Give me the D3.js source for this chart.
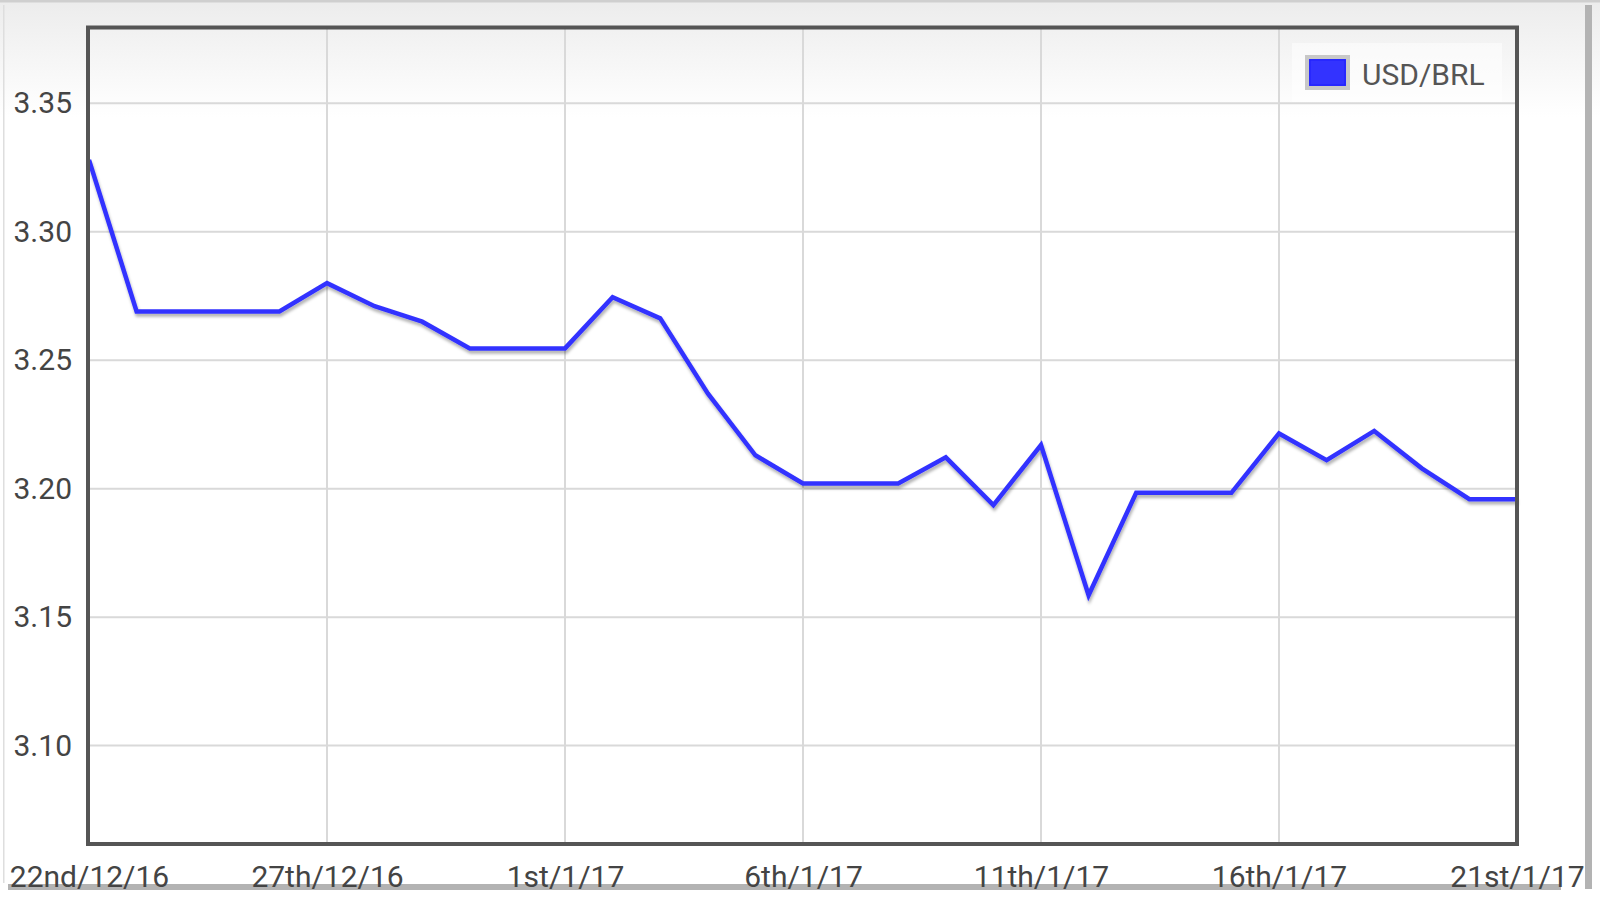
<!DOCTYPE html>
<html>
<head>
<meta charset="utf-8">
<script src="https://cdn.jsdelivr.net/npm/d3@7"></script>
<style>
  html, body { margin: 0; padding: 0; background: #fff; }
  svg { display: block; font-family: Roboto, "Noto Sans", sans-serif; }
</style>
</head>
<body>
<div id="chart"></div>
<script>
"use strict";

// one rate per day, 22nd Dec 2016 .. 21st Jan 2017
var dates = [
  "2016-12-22", "2016-12-23", "2016-12-24", "2016-12-25", "2016-12-26",
  "2016-12-27", "2016-12-28", "2016-12-29", "2016-12-30", "2016-12-31",
  "2017-01-01", "2017-01-02", "2017-01-03", "2017-01-04", "2017-01-05",
  "2017-01-06", "2017-01-07", "2017-01-08", "2017-01-09", "2017-01-10",
  "2017-01-11", "2017-01-12", "2017-01-13", "2017-01-14", "2017-01-15",
  "2017-01-16", "2017-01-17", "2017-01-18", "2017-01-19", "2017-01-20",
  "2017-01-21"
];
var usdBrl = [
  3.328, 3.269, 3.269, 3.269, 3.269,
  3.280, 3.271, 3.265, 3.2546, 3.2546,
  3.2546, 3.2745, 3.2663, 3.2371, 3.213,
  3.202, 3.202, 3.202, 3.2122, 3.1936,
  3.217, 3.1585, 3.1984, 3.1984, 3.1984,
  3.2215, 3.2111, 3.2225, 3.2079, 3.1959,
  3.1959
];
var xTickDates = ["2016-12-22", "2016-12-27", "2017-01-01", "2017-01-06", "2017-01-11", "2017-01-16", "2017-01-21"];
var xTickLabels = ["22nd/12/16", "27th/12/16", "1st/1/17", "6th/1/17", "11th/1/17", "16th/1/17", "21st/1/17"];
var yTicks = [3.10, 3.15, 3.20, 3.25, 3.30, 3.35];
var yDomain = [3.0617, 3.3795];
var seriesName = "USD/BRL";

var width = 1600, height = 900;
var plot = { left: 88, top: 27.5, right: 1517, bottom: 844 };
var parse = d3.timeParse("%Y-%m-%d");

var data = dates.map(function(d, i) {
  return { x: parse(d), y: usdBrl[i] };
});

var x = d3.scaleTime()
  .domain([parse(dates[0]), parse(dates[dates.length - 1])])
  .range([plot.left + 1, plot.right]);
var y = d3.scaleLinear().domain(yDomain).range([plot.bottom, plot.top]);

var svg = d3.select("#chart")
  .append("svg")
  .attr("width", width)
  .attr("height", height);

var defs = svg.append("defs");
var grad = defs.append("linearGradient")
  .attr("id", "bg")
  .attr("x1", 0).attr("y1", 0).attr("x2", 0).attr("y2", 1);
grad.append("stop").attr("offset", "0").attr("stop-color", "#ececec");
grad.append("stop").attr("offset", "0.13").attr("stop-color", "#ffffff");
grad.append("stop").attr("offset", "1").attr("stop-color", "#ffffff");

var shadow = defs.append("filter")
  .attr("id", "shadow")
  .attr("x", "-5%").attr("y", "-5%").attr("width", "110%").attr("height", "110%");
shadow.append("feDropShadow")
  .attr("dx", 1).attr("dy", 3)
  .attr("stdDeviation", 1.5)
  .attr("flood-color", "#000")
  .attr("flood-opacity", 0.3);

// page background and the frame edges of the screenshot
svg.append("rect")
  .attr("x", 0).attr("y", 0)
  .attr("width", width).attr("height", height)
  .attr("fill", "url(#bg)");
svg.append("rect")
  .attr("x", 0).attr("y", 0).attr("width", width).attr("height", 2.5)
  .attr("fill", "#cfcfcf");
svg.append("rect")
  .attr("x", 3).attr("y", 5).attr("width", 1.5).attr("height", 878)
  .attr("fill", "#dedede");

// scroll bars of the screenshot
svg.append("rect")
  .attr("x", 8).attr("y", 884).attr("width", 1553).attr("height", 6)
  .attr("fill", "#b3b3b3");
svg.append("rect")
  .attr("x", 1585).attr("y", 5).attr("width", 7).attr("height", 884)
  .attr("fill", "#b3b3b3");

// grid
svg.append("g")
  .selectAll("line")
  .data(yTicks)
  .enter()
  .append("line")
  .attr("x1", plot.left).attr("x2", plot.right)
  .attr("y1", function(d) { return y(d); })
  .attr("y2", function(d) { return y(d); })
  .attr("stroke", "#d9d9d9")
  .attr("stroke-width", 2);

svg.append("g")
  .selectAll("line")
  .data(xTickDates.slice(1, -1))
  .enter()
  .append("line")
  .attr("y1", plot.top).attr("y2", plot.bottom)
  .attr("x1", function(d) { return x(parse(d)); })
  .attr("x2", function(d) { return x(parse(d)); })
  .attr("stroke", "#d9d9d9")
  .attr("stroke-width", 2);

// axes (labels only)
var yAxis = svg.append("g")
  .attr("transform", "translate(" + 72 + ",0)")
  .call(d3.axisLeft(y).tickValues(yTicks).tickSize(0).tickPadding(0)
    .tickFormat(d3.format(".2f")));
yAxis.select(".domain").remove();
yAxis.selectAll("text")
  .attr("fill", "#444")
  .attr("font-size", 30)
  .attr("font-family", "Roboto, sans-serif");

var xAxis = svg.append("g")
  .attr("transform", "translate(0," + 866 + ")")
  .call(d3.axisBottom(x)
    .tickValues(xTickDates.map(parse))
    .tickSize(0)
    .tickPadding(0)
    .tickFormat(function(d, i) { return xTickLabels[i]; }));
xAxis.select(".domain").remove();
xAxis.selectAll("text")
  .attr("fill", "#444")
  .attr("font-size", 30)
  .attr("font-family", "Roboto, sans-serif");

// the series
var line = d3.line()
  .x(function(d) { return x(d.x); })
  .y(function(d) { return y(d.y); });

svg.append("path")
  .datum(data)
  .attr("d", line)
  .attr("fill", "none")
  .attr("stroke", "#3333ff")
  .attr("stroke-width", 4.5)
  .attr("stroke-linejoin", "miter")
  .attr("filter", "url(#shadow)");

// plot frame
svg.append("rect")
  .attr("x", plot.left).attr("y", plot.top)
  .attr("width", plot.right - plot.left)
  .attr("height", plot.bottom - plot.top)
  .attr("fill", "none")
  .attr("stroke", "#555")
  .attr("stroke-width", 4);

// legend
var legend = svg.append("g").attr("transform", "translate(1292,43)");
legend.append("rect")
  .attr("width", 210).attr("height", 59)
  .attr("fill", "#fff").attr("fill-opacity", 0.5);
legend.append("rect")
  .attr("x", 15).attr("y", 14).attr("width", 41).attr("height", 31)
  .attr("fill", "#3333ff")
  .attr("stroke", "#c8c8c8")
  .attr("stroke-width", 4);
legend.append("rect")
  .attr("x", 18).attr("y", 17).attr("width", 35).attr("height", 25)
  .attr("fill", "none")
  .attr("stroke", "#1f1fff")
  .attr("stroke-width", 1);
legend.append("text")
  .attr("x", 70).attr("y", 42)
  .attr("fill", "#555")
  .attr("font-size", 30)
  .attr("font-family", "Roboto, sans-serif")
  .text(seriesName);
</script>
</body>
</html>
